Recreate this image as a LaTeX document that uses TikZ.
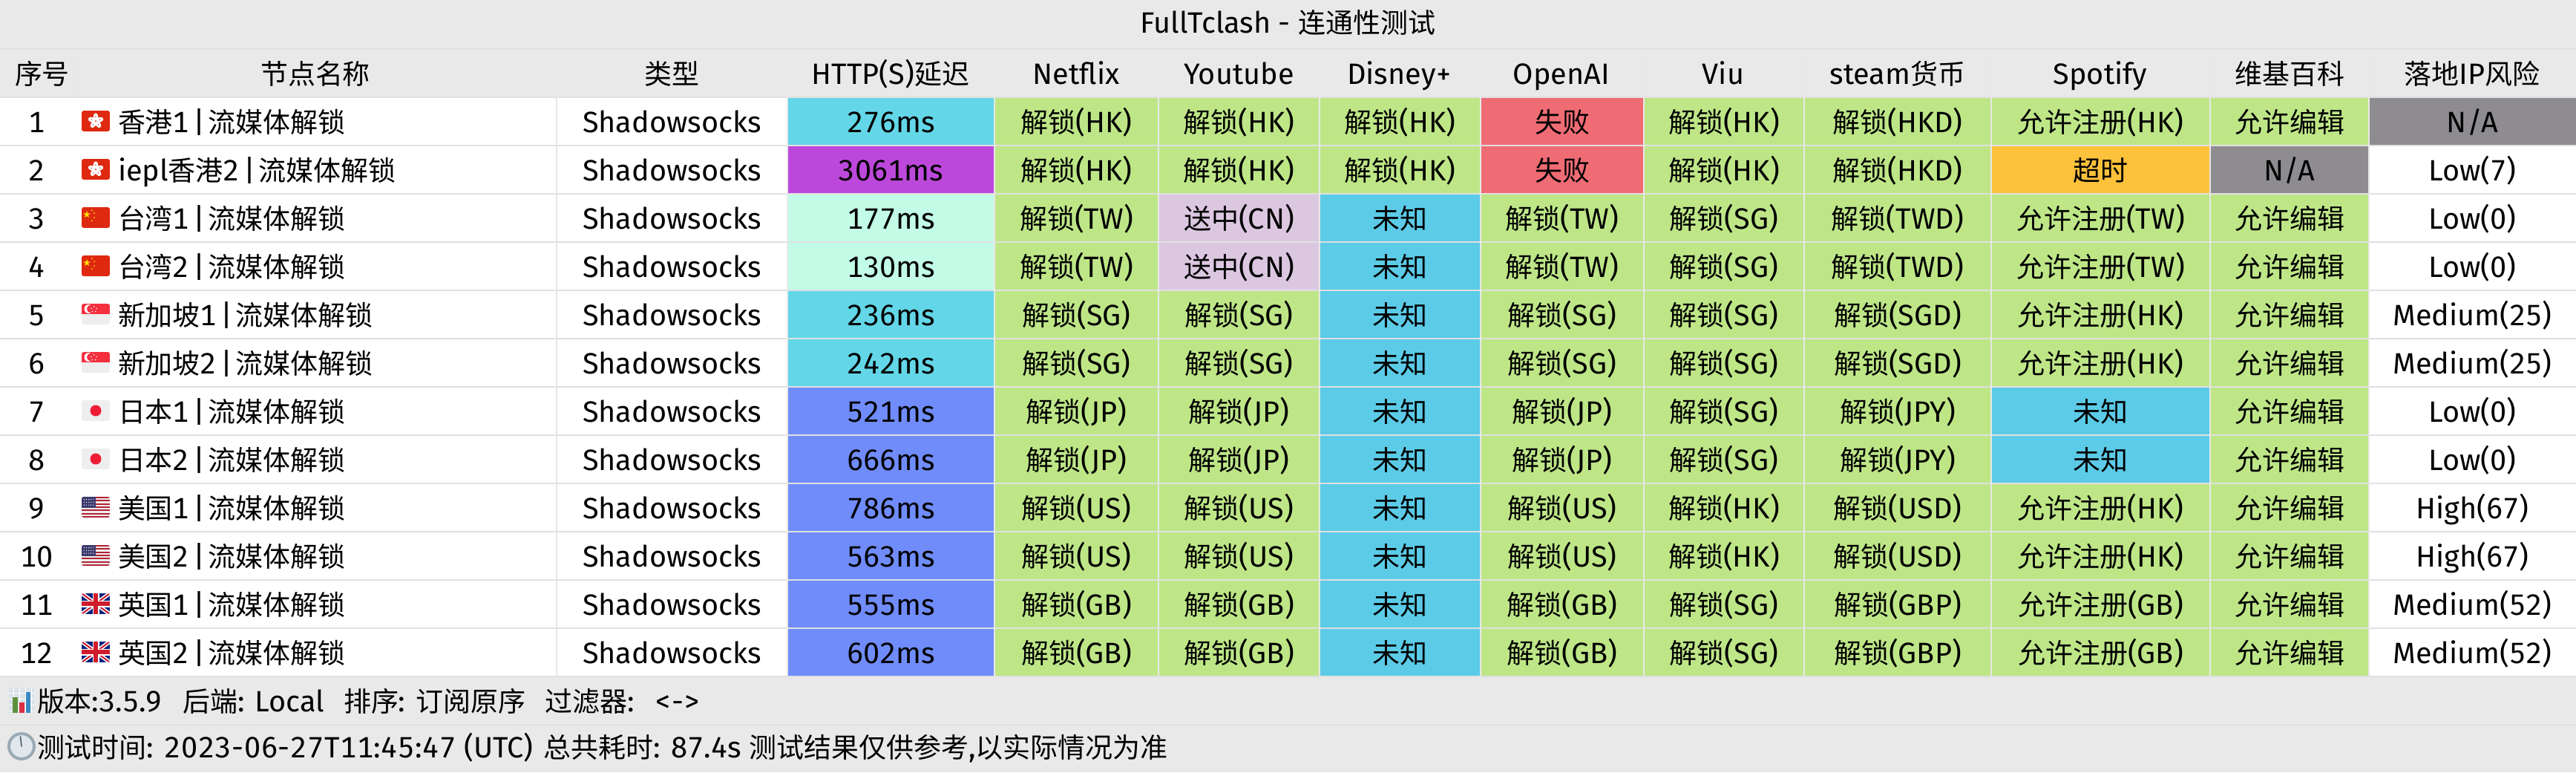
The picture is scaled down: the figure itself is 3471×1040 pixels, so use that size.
\documentclass[tikz,border=0pt]{standalone}
\usepackage{fontspec}
\setmainfont[Numbers=Monospaced]{Fira Sans}
\newfontfamily\cjk[Scale=0.934]{Noto Sans CJK SC}
\newcommand{\C}[1]{{\cjk #1}}
\newcommand{\NA}{N/A}
\newcommand{\Sep}{\hspace{2.7pt}|\hspace{-3.2pt} }
\newcommand{\Sp}[1]{{\addfontfeature{LetterSpace=1.6}#1}}
\definecolor{bgc}{HTML}{E9E9E9}
\definecolor{linec}{HTML}{E0E0E0}
\definecolor{vlinec}{HTML}{E8E8E8}
\definecolor{cy}{HTML}{63D7E8}
\definecolor{pu}{HTML}{BC48DB}
\definecolor{mi}{HTML}{C2FBE6}
\definecolor{bl}{HTML}{708CFB}
\definecolor{gr}{HTML}{BEE687}
\definecolor{re}{HTML}{F06C74}
\definecolor{un}{HTML}{5CCBE8}
\definecolor{li}{HTML}{DCC7E1}
\definecolor{or}{HTML}{FDC13B}
\definecolor{gy}{HTML}{8E8C90}
\definecolor{wh}{HTML}{FFFFFF}
\definecolor{fred}{HTML}{DE2910}
\definecolor{fyel}{HTML}{FFDE00}
\definecolor{fsg}{HTML}{F42F3E}
\definecolor{flt}{HTML}{EEEEEE}
\definecolor{fjp}{HTML}{EF1C35}
\definecolor{fus}{HTML}{B22334}
\definecolor{fcan}{HTML}{3C3B6E}
\definecolor{fgb}{HTML}{00247D}
\definecolor{fgr}{HTML}{CF1B2B}
\definecolor{icbg}{HTML}{CCD6DD}
\definecolor{icgr}{HTML}{5C913B}
\definecolor{icre}{HTML}{DD2E44}
\definecolor{icbl}{HTML}{3B88C3}
\definecolor{ckbg}{HTML}{E1E8ED}
\definecolor{ckri}{HTML}{99AAB5}
\definecolor{ckha}{HTML}{66757F}
\tikzset{
  x=0.5pt,y=-0.5pt,
  txt/.style={inner sep=0pt,outer sep=0pt,anchor=base,text=black,font=\fontsize{19.8}{23}\selectfont},
  txtl/.style={txt,anchor=base west},
  hl/.style={draw=linec,line width=1pt},
  vl/.style={draw=vlinec,line width=1pt},
  flagclip/.style={rounded corners=1.5pt},
}
% flags, local coordinates 38x28
\newcommand{\flagHK}{%
  \fill[fred] (0,0) rectangle (38,28);
  \foreach \aa in {0,72,144,216,288}{
    \fill[white,rotate around={\aa:(19,14)}] (19,8.5) ellipse [x radius=3.4,y radius=5.2];
    \fill[fred,rotate around={\aa:(19,14)}] (19,8) circle [radius=0.8];
  }
  \fill[fred] (19,14) circle [radius=1];
}
\newcommand{\flagCN}{%
  \fill[fred] (0,0) rectangle (38,28);
  \fill[fyel,shift={(7,10)}] (-90:5) -- (-54:2) -- (-18:5) -- (18:2) -- (54:5) -- (90:2) -- (126:5) -- (162:2) -- (198:5) -- (234:2) -- cycle;
  \foreach \px/\py in {14/4,17/8,17/14,14/18}{\fill[fyel] (\px,\py) circle [radius=1];}
}
\newcommand{\flagSG}{%
  \fill[flt] (0,0) rectangle (38,28);
  \fill[fsg] (0,0) rectangle (38,14);
  \fill[white] (9.5,7) circle [radius=6];
  \fill[fsg] (12.5,7) circle [radius=5.5];
  \foreach \aa in {-90,-18,54,126,198}{\fill[white,shift={(16.5,7.5)}] (\aa:3.8) circle [radius=0.9];}
}
\newcommand{\flagJP}{%
  \fill[flt] (0,0) rectangle (38,28);
  \fill[fjp] (19,14) circle [radius=7.5];
}
\newcommand{\flagUS}{%
  \fill[flt] (0,0) rectangle (38,28);
  \foreach \ii in {0,2,4,6,8,10,12}{\fill[fus] (0,\ii*2.154) rectangle (38,\ii*2.154+2.154);}
  \fill[fcan] (0,0) rectangle (19,15);
  \foreach \ii in {1,...,5}{\foreach \jj in {1,2,3}{\fill[white] (\ii*3.2,\jj*3.7) circle [radius=0.7];}}
}
\newcommand{\flagGB}{%
  \fill[fgb] (0,0) rectangle (38,28);
  \draw[white,line width=2.6pt] (0,0) -- (38,28) (38,0) -- (0,28);
  \draw[fgr,line width=1pt] (0,0) -- (38,28) (38,0) -- (0,28);
  \draw[white,line width=4.5pt] (19,0) -- (19,28) (0,14) -- (38,14);
  \draw[fgr,line width=3.4pt] (19,0) -- (19,28) (0,14) -- (38,14);
}
\newcommand{\DataRow}[2]{%
  \pgfmathsetmacro{\rtop}{131+65*(#1-1)}
  \pgfmathsetmacro{\rbot}{\rtop+65}
  \pgfmathsetmacro{\rbase}{\rtop+47}
  \foreach \kk/\stl/\tx in {#2}{
    \pgfmathsetmacro{\xa}{{0,100,750,1061,1340,1561,1778,1995,2215,2431,2683,2978,3192,3471}[int(\kk-1)]}
    \pgfmathsetmacro{\xb}{{0,100,750,1061,1340,1561,1778,1995,2215,2431,2683,2978,3192,3471}[int(\kk)]}
    \fill[\stl] (\xa,\rtop) rectangle (\xb,\rbot);
    \node[txt] (c#1-\kk) at ({(\xa+\xb)/2},\rbase) {\tx};
  }
}
\newcommand{\NameCell}[4]{% row, number, flag macro, name
  \pgfmathsetmacro{\rtop}{131+65*(#1-1)}
  \pgfmathsetmacro{\rbase}{\rtop+47}
  \node[txt] (n#1) at (49.5,\rbase) {#2};
  \begin{scope}[shift={(110,\rtop+18)}]
    \begin{scope}
      \clip[flagclip] (0,0) rectangle (38,28);
      #3
    \end{scope}
  \end{scope}
  \node[txtl] (m#1) at (159,\rbase) {#4};
  \node[txt] (t#1) at (905.5,\rbase) {Shadowsocks};
}
\begin{document}
\begin{tikzpicture}
\useasboundingbox (0,0) rectangle (3471,1040);
\fill[bgc] (0,0) rectangle (3471,1040);
\fill[white] (0,131) rectangle (3471,911);

\node[txt] (title) at (1735.5,44) {FullTclash - \C{连通性测试}};

% header
\foreach \hdx/\hdt [count=\hdi] in {57/\C{序号},425/\C{节点名称},905.5/\C{类型},1200/HTTP(S)\C{延迟},1450/Netflix,1669.5/Youtube,1886/Disney+,2104/OpenAI,2322/Viu,2557/steam\C{货币},2830/Spotify,3085/\C{维基百科},3331/\C{落地}IP\C{风险}}{
  \node[txt] (h\hdi) at (\hdx,113) {\hdt};
}

\NameCell{1}{1}{\flagHK}{\C{香港}1\Sep\C{流媒体解锁}}
\NameCell{2}{2}{\flagHK}{iepl\C{香港}2\Sep\C{流媒体解锁}}
\NameCell{3}{3}{\flagCN}{\C{台湾}1\Sep\C{流媒体解锁}}
\NameCell{4}{4}{\flagCN}{\C{台湾}2\Sep\C{流媒体解锁}}
\NameCell{5}{5}{\flagSG}{\C{新加坡}1\Sep\C{流媒体解锁}}
\NameCell{6}{6}{\flagSG}{\C{新加坡}2\Sep\C{流媒体解锁}}
\NameCell{7}{7}{\flagJP}{\C{日本}1\Sep\C{流媒体解锁}}
\NameCell{8}{8}{\flagJP}{\C{日本}2\Sep\C{流媒体解锁}}
\NameCell{9}{9}{\flagUS}{\C{美国}1\Sep\C{流媒体解锁}}
\NameCell{10}{10}{\flagUS}{\C{美国}2\Sep\C{流媒体解锁}}
\NameCell{11}{11}{\flagGB}{\C{英国}1\Sep\C{流媒体解锁}}
\NameCell{12}{12}{\flagGB}{\C{英国}2\Sep\C{流媒体解锁}}

\DataRow{1}{4/cy/276ms,5/gr/\C{解锁}(HK),6/gr/\C{解锁}(HK),7/gr/\C{解锁}(HK),8/re/\C{失败},9/gr/\C{解锁}(HK),10/gr/\C{解锁}(HKD),11/gr/\C{允许注册}(HK),12/gr/\C{允许编辑},13/gy/\NA}
\DataRow{2}{4/pu/3061ms,5/gr/\C{解锁}(HK),6/gr/\C{解锁}(HK),7/gr/\C{解锁}(HK),8/re/\C{失败},9/gr/\C{解锁}(HK),10/gr/\C{解锁}(HKD),11/or/\C{超时},12/gy/\NA,13/wh/Low(7)}
\DataRow{3}{4/mi/177ms,5/gr/\C{解锁}(TW),6/li/\C{送中}(CN),7/un/\C{未知},8/gr/\C{解锁}(TW),9/gr/\C{解锁}(SG),10/gr/\C{解锁}(TWD),11/gr/\C{允许注册}(TW),12/gr/\C{允许编辑},13/wh/Low(0)}
\DataRow{4}{4/mi/130ms,5/gr/\C{解锁}(TW),6/li/\C{送中}(CN),7/un/\C{未知},8/gr/\C{解锁}(TW),9/gr/\C{解锁}(SG),10/gr/\C{解锁}(TWD),11/gr/\C{允许注册}(TW),12/gr/\C{允许编辑},13/wh/Low(0)}
\DataRow{5}{4/cy/236ms,5/gr/\C{解锁}(SG),6/gr/\C{解锁}(SG),7/un/\C{未知},8/gr/\C{解锁}(SG),9/gr/\C{解锁}(SG),10/gr/\C{解锁}(SGD),11/gr/\C{允许注册}(HK),12/gr/\C{允许编辑},13/wh/Medium(25)}
\DataRow{6}{4/cy/242ms,5/gr/\C{解锁}(SG),6/gr/\C{解锁}(SG),7/un/\C{未知},8/gr/\C{解锁}(SG),9/gr/\C{解锁}(SG),10/gr/\C{解锁}(SGD),11/gr/\C{允许注册}(HK),12/gr/\C{允许编辑},13/wh/Medium(25)}
\DataRow{7}{4/bl/521ms,5/gr/\C{解锁}(JP),6/gr/\C{解锁}(JP),7/un/\C{未知},8/gr/\C{解锁}(JP),9/gr/\C{解锁}(SG),10/gr/\C{解锁}(JPY),11/un/\C{未知},12/gr/\C{允许编辑},13/wh/Low(0)}
\DataRow{8}{4/bl/666ms,5/gr/\C{解锁}(JP),6/gr/\C{解锁}(JP),7/un/\C{未知},8/gr/\C{解锁}(JP),9/gr/\C{解锁}(SG),10/gr/\C{解锁}(JPY),11/un/\C{未知},12/gr/\C{允许编辑},13/wh/Low(0)}
\DataRow{9}{4/bl/786ms,5/gr/\C{解锁}(US),6/gr/\C{解锁}(US),7/un/\C{未知},8/gr/\C{解锁}(US),9/gr/\C{解锁}(HK),10/gr/\C{解锁}(USD),11/gr/\C{允许注册}(HK),12/gr/\C{允许编辑},13/wh/High(67)}
\DataRow{10}{4/bl/563ms,5/gr/\C{解锁}(US),6/gr/\C{解锁}(US),7/un/\C{未知},8/gr/\C{解锁}(US),9/gr/\C{解锁}(HK),10/gr/\C{解锁}(USD),11/gr/\C{允许注册}(HK),12/gr/\C{允许编辑},13/wh/High(67)}
\DataRow{11}{4/bl/555ms,5/gr/\C{解锁}(GB),6/gr/\C{解锁}(GB),7/un/\C{未知},8/gr/\C{解锁}(GB),9/gr/\C{解锁}(SG),10/gr/\C{解锁}(GBP),11/gr/\C{允许注册}(GB),12/gr/\C{允许编辑},13/wh/Medium(52)}
\DataRow{12}{4/bl/602ms,5/gr/\C{解锁}(GB),6/gr/\C{解锁}(GB),7/un/\C{未知},8/gr/\C{解锁}(GB),9/gr/\C{解锁}(SG),10/gr/\C{解锁}(GBP),11/gr/\C{允许注册}(GB),12/gr/\C{允许编辑},13/wh/Medium(52)}

% grid lines
\foreach \ii in {0,...,12}{\draw[hl] (0,131+65*\ii) -- (3471,131+65*\ii);}
\draw[hl] (0,66) -- (3471,66);
\draw[hl] (0,976) -- (3471,976);
\foreach \vx in {750,1061,1340,1561,1778,1995,2215,2431,2683,2978,3192}{\draw[vl] (\vx,66) -- (\vx,911);}
\draw[vl] (100,66) -- (100,131);

% footer icons
\begin{scope}[shift={(12,926)}]
  \fill[icbg!70!white] (0,0) rectangle (34,34);
  \foreach \gx in {6,14,22,30}{\draw[white,line width=0.4pt] (\gx,0) -- (\gx,34);}
  \foreach \gy in {7,15,23,31}{\draw[white,line width=0.4pt] (0,\gy) -- (34,\gy);}
  \fill[icgr] (5,13) rectangle (12,33.5);
  \fill[icre] (14,20) rectangle (20.5,33.5);
  \fill[icbl] (22.5,6) rectangle (29,33.5);
\end{scope}
\begin{scope}[shift={(29,1005)}]
  \fill[ckbg,draw=ckri,line width=2pt] (0,0) circle [radius=17];
  \draw[ckha,line width=1pt,line cap=round] (0,0) -- (-1.5,-13);
\end{scope}

\node[txtl] (ft1) at (50,958) {\C{版本}:3.5.9\hspace{13.7pt}\C{后端}: Local\hspace{13pt}\C{排序}: \C{订阅原序}\hspace{13pt}\C{过滤器}:\hspace{14pt}<->};
\node[txtl] (ft2) at (50,1020) {\C{测试时间}: \Sp{2023-06-27T11:45:47} (UTC)\hspace{2pt} \C{总共耗时}: 87.4s \C{测试结果仅供参考},\C{以实际情况为准}};
\end{tikzpicture}
\end{document}
